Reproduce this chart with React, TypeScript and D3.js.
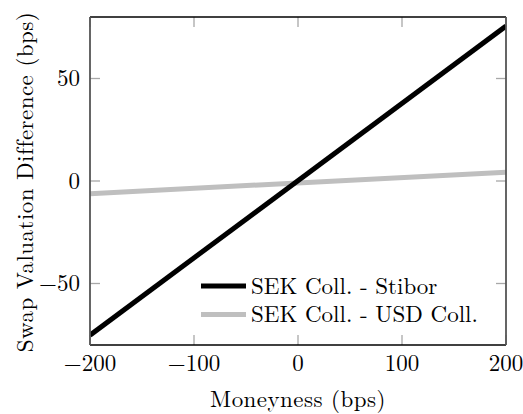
import React from "react";
import * as d3 from "d3";

// Moneyness grid (bps)
const moneyness = [-200, 200];
// Valuation differences (bps)
const sekStibor = [-75.2, 75.6];
const sekUsd = [-6.2, 4.3];

const xTicks = [-200, -100, 0, 100, 200];
const yTicks = [-50, 0, 50];

const seriesNames = ["SEK Coll. - Stibor", "SEK Coll. - USD Coll."];
const seriesColors = ["#000000", "#bfbfbf"];

const W = 523;
const H = 414;
const M = { left: 90, right: 17, top: 17, bottom: 69 };
const FONT = "'Latin Modern Roman', 'CMU Serif', 'DejaVu Serif', serif";

export default function App() {
  const x = d3.scaleLinear().domain([-200, 200]).range([M.left, W - M.right]);
  const y = d3.scaleLinear().domain([-80, 80]).range([H - M.bottom, M.top]);
  const line = d3
    .line<[number, number]>()
    .x((d) => x(d[0]))
    .y((d) => y(d[1]));

  const series = [sekStibor, sekUsd];
  const drawOrder = [1, 0];
  const tickLen = 10;
  const x0 = M.left;
  const x1 = W - M.right;
  const y0 = M.top;
  const y1 = H - M.bottom;
  const fs = 23;
  const ls = 0.45;

  const fmt = (t: number) => (t < 0 ? "\u2212" + Math.abs(t) : String(t));

  return (
    <svg
      width={W}
      height={H}
      style={{ position: "absolute", left: 0, top: 0, background: "#fff" }}
      fontFamily={FONT}
    >
      <defs>
        <clipPath id="plot-clip">
          <rect x={x0} y={y0} width={x1 - x0} height={y1 - y0} />
        </clipPath>
      </defs>

      {/* ticks on all four sides, pointing inward */}
      <g stroke="#a8a8a8" strokeWidth={1.3}>
        {xTicks.map((t) => (
          <g key={"xt" + t}>
            <line x1={x(t)} x2={x(t)} y1={y1} y2={y1 - tickLen} />
            <line x1={x(t)} x2={x(t)} y1={y0} y2={y0 + tickLen} />
          </g>
        ))}
        {yTicks.map((t) => (
          <g key={"yt" + t}>
            <line x1={x0} x2={x0 + tickLen} y1={y(t)} y2={y(t)} />
            <line x1={x1} x2={x1 - tickLen} y1={y(t)} y2={y(t)} />
          </g>
        ))}
      </g>

      {/* data lines */}
      <g clipPath="url(#plot-clip)">
        {drawOrder.map((i) => (
          <path
            key={seriesNames[i]}
            d={line(moneyness.map((m, k) => [m, series[i][k]]) as [number, number][]) || ""}
            fill="none"
            stroke={seriesColors[i]}
            strokeWidth={5}
          />
        ))}
      </g>

      {/* frame */}
      <line x1={x0} x2={x1} y1={y0} y2={y0} stroke="#000" strokeWidth={1.3} />
      <line x1={x0} x2={x1} y1={y1} y2={y1} stroke="#000" strokeWidth={1.3} />
      <line x1={x0} x2={x0} y1={y0} y2={y1} stroke="#555" strokeWidth={1.8} />
      <line x1={x1} x2={x1} y1={y0} y2={y1} stroke="#555" strokeWidth={1.8} />

      {/* tick labels */}
      <g fontSize={fs} fill="#000">
        {xTicks.map((t) => (
          <text key={"xl" + t} x={x(t)} y={y1 + 26} textAnchor="middle">
            {fmt(t)}
          </text>
        ))}
        {yTicks.map((t) => (
          <text key={"yl" + t} x={x0 - 10} y={y(t) + 7.5} textAnchor="end">
            {fmt(t)}
          </text>
        ))}
      </g>

      {/* axis titles */}
      <text
        x={(x0 + x1) / 2}
        y={H - 7.5}
        textAnchor="middle"
        fontSize={fs}
        letterSpacing={ls}
      >
        Moneyness (bps)
      </text>
      <text
        transform={`translate(33, ${(y0 + y1) / 2 + 1}) rotate(-90)`}
        textAnchor="middle"
        fontSize={fs}
        letterSpacing={ls}
      >
        Swap Valuation Difference (bps)
      </text>

      {/* legend */}
      <g fontSize={fs}>
        {seriesNames.map((name, i) => {
          const ly = 286 + i * 28.5;
          return (
            <g key={name}>
              <line x1={201} x2={246} y1={ly} y2={ly} stroke={seriesColors[i]} strokeWidth={5} />
              <text x={251} y={ly + 7.5}>
                {name}
              </text>
            </g>
          );
        })}
      </g>
    </svg>
  );
}
